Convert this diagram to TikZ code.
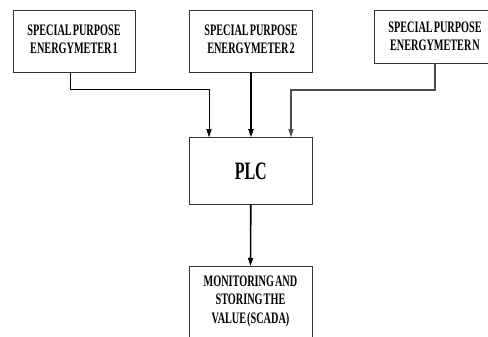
\documentclass[tikz,border=0pt]{standalone}
\usepackage{fontspec}
\setmainfont{Liberation Serif}[FakeStretch=0.64,WordSpace=0.4]
\usetikzlibrary{arrows.meta}
\begin{document}
\begin{tikzpicture}[x=1pt,y=-1pt,
  box/.style={draw=black!80,line width=0.9pt,align=center,inner sep=0pt,font=\fontsize{16}{18}\selectfont\bfseries},
  arr/.style={-{Triangle[length=8pt,width=5pt]},black}]
\clip (0,0) rectangle (488,337);
\fill[white] (0,0) rectangle (488,337);
\node[box,minimum width=122pt,minimum height=62pt,text depth=3pt] (m1) at (74,41) {SPECIAL PURPOSE\\ENERGYMETER 1};
\node[box,minimum width=123pt,minimum height=62pt,text depth=3pt] (m2) at (251,41) {SPECIAL PURPOSE\\ENERGYMETER 2};
\node[box,minimum width=122pt,minimum height=53pt,text depth=0pt] (mn) at (435,36.5) {SPECIAL PURPOSE\\ENERGYMETER N};
\node[box,minimum width=123pt,minimum height=66.6pt,font=\fontsize{25}{26}\selectfont\bfseries] (plc) at (250.8,171) {PLC};
\node[box,minimum width=123pt,minimum height=80pt,anchor=north,text depth=13.5pt,font=\fontsize{16}{18.5}\selectfont\bfseries] (sc) at (250.5,266) {MONITORING AND\\STORING THE\\VALUE (SCADA)};
\coordinate (t1) at (209,89);
\coordinate (tn) at (291,90);
\draw[arr,line width=0.8pt] ([xshift=-3.3pt]m1.south) |- (t1) -- (t1 |- plc.north);
\draw[arr,line width=1.6pt] (m2.south) -- (m2.south |- plc.north);
\draw[arr,line width=1.1pt,draw=black!70] (mn.south) |- (tn) -- (tn |- plc.north);
\draw[arr,line width=1.6pt] (plc.south) -- (sc.north);
\end{tikzpicture}
\end{document}
